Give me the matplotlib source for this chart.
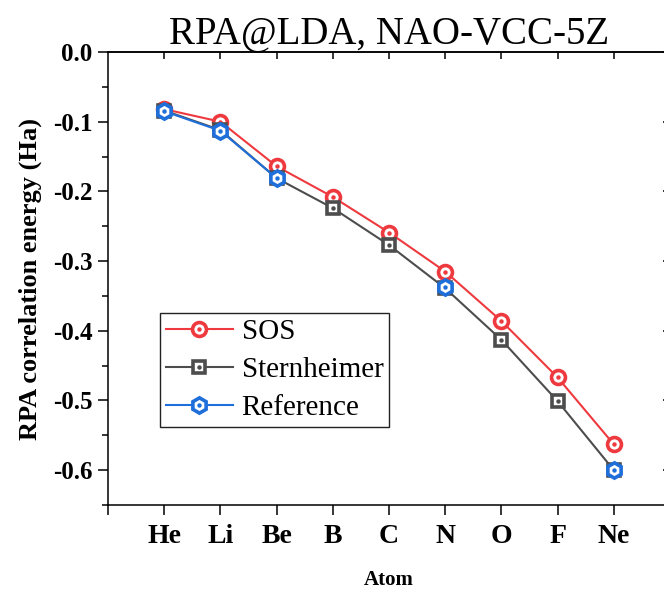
import matplotlib
matplotlib.use('Agg')

import numpy as np
import matplotlib.pyplot as plt
from matplotlib.legend_handler import HandlerTuple
from matplotlib.ticker import NullLocator

atoms = ['He', 'Li', 'Be', 'B', 'C', 'N', 'O', 'F', 'Ne']
sos = [-0.082, -0.100, -0.164, -0.208, -0.259, -0.315, -0.386, -0.467, -0.563]
sternheimer = [-0.084, -0.112, -0.181, -0.224, -0.277, -0.339, -0.413, -0.501, -0.600]
# reference values exist only for some atoms
reference = [-0.085, -0.113, -0.181, np.nan, np.nan, -0.337, np.nan, np.nan, -0.600]
y_ticks = [0.0, -0.1, -0.2, -0.3, -0.4, -0.5, -0.6]

plt.rcParams['font.family'] = ['Liberation Serif', 'DejaVu Serif']

fig = plt.figure(figsize=(6.64, 5.91), dpi=100)
ax = fig.add_axes([108 / 664, 1 - 505 / 591, 562 / 664, 453 / 591])

x = np.arange(1, len(atoms) + 1)

series = [
    ('SOS', sos, '#EE3A3F', 'o', 10),
    ('Sternheimer', sternheimer, '#4D4D4D', 's', 9),
    ('Reference', reference, '#1F6FDB', 'h', 11),
]

handles = []
for i, (name, vals, color, mk, ms) in enumerate(series):
    line, = ax.plot(x, vals, color=color, lw=1.5, marker=mk, ms=ms,
                    mfc='white', mec=color, mew=2.6, zorder=3 + i)
    dot, = ax.plot(x, vals, ls='none', marker='o', ms=3.2, mfc=color,
                   mec=color, mew=0, zorder=3 + i)
    handles.append((line, dot))

ax.set_xlim(0, 10)
ax.set_ylim(-0.65, 0)

ax.set_xticks(np.arange(0, 11))
ax.set_xticklabels([''] + atoms + [''], fontsize=20, fontweight='bold')
ax.set_yticks(y_ticks)
ax.set_yticklabels(['%.1f' % v for v in y_ticks], fontsize=18, fontweight='bold')
ax.set_yticks(np.arange(-0.65, 0.0, 0.1), minor=True)

ax.tick_params(axis='both', which='both', top=False, right=False)
ax.tick_params(axis='both', which='major', direction='out', length=7, width=1.1, pad=4)
ax.tick_params(axis='y', which='minor', direction='out', length=4, width=1.1)
ax.tick_params(axis='x', pad=7)

for sp in ax.spines.values():
    sp.set_linewidth(1.1)

# inward ticks on top and right, majors only
top = ax.secondary_xaxis('top')
top.set_xticks(x)
top.set_xticklabels([])
top.xaxis.set_minor_locator(NullLocator())
top.tick_params(direction='in', length=5, width=1.1)
top.tick_params(which='minor', length=0)
top.spines['top'].set_linewidth(1.1)

right = ax.secondary_yaxis('right')
right.set_yticks(y_ticks)
right.set_yticklabels([])
right.yaxis.set_minor_locator(NullLocator())
right.tick_params(direction='in', length=5, width=1.1)
right.tick_params(which='minor', length=0)
right.spines['right'].set_linewidth(1.1)

ax.set_title('RPA@LDA, NAO-VCC-5Z', fontsize=28, pad=5)
ax.set_ylabel('RPA correlation energy (Ha)', fontsize=19, fontweight='bold', labelpad=8)
ax.set_xlabel('Atom', fontsize=15, fontweight='bold', labelpad=15)

leg = ax.legend(handles, [s[0] for s in series],
                handler_map={tuple: HandlerTuple(ndivide=1)},
                loc='lower left', bbox_to_anchor=(0.0925, 0.172), borderaxespad=0,
                fontsize=21, frameon=True, fancybox=False, framealpha=1,
                edgecolor='#222222', handlelength=2.3, handletextpad=0.3,
                labelspacing=0.4, borderpad=0.2)
leg.get_frame().set_linewidth(1.0)

fig.savefig('out.png', dpi=100)
